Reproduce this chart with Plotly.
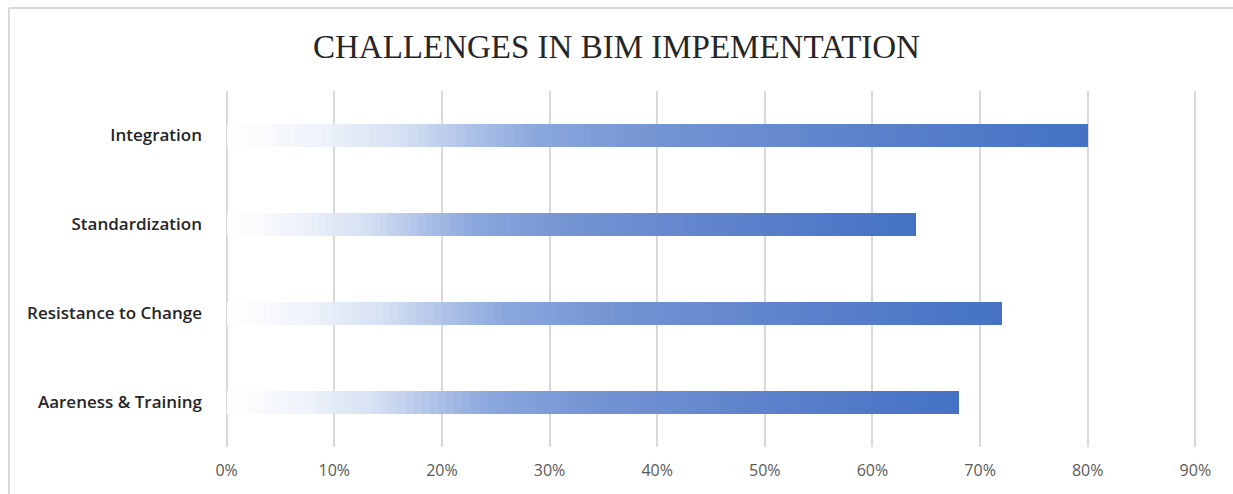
import plotly.graph_objects as go

categories = ["Aareness & Training", "Resistance to Change", "Standardization", "Integration"]
values = [0.68, 0.72, 0.64, 0.80]
tick_vals = [0, 0.1, 0.2, 0.3, 0.4, 0.5, 0.6, 0.7, 0.8, 0.9]
tick_text = ["0%", "10%", "20%", "30%", "40%", "50%", "60%", "70%", "80%", "90%"]

# gradient stops (fraction along bar, rgb)
stops = [
    (0.00, (255, 255, 255)),
    (0.10, (240, 244, 251)),
    (0.20, (214, 225, 243)),
    (0.28, (176, 195, 232)),
    (0.36, (138, 167, 221)),
    (0.50, (116, 148, 211)),
    (0.75, (92, 129, 203)),
    (1.00, (68, 114, 196)),
]

def color_at(t):
    for (t0, c0), (t1, c1) in zip(stops[:-1], stops[1:]):
        if t0 <= t <= t1:
            f = (t - t0) / (t1 - t0) if t1 > t0 else 0
            r, g, b = [round(a + (bb - a) * f) for a, bb in zip(c0, c1)]
            return f"rgb({r},{g},{b})"
    return "rgb(68,114,196)"

W, H = 1233, 494
ML, MR, MT, MB = 225, 36, 91, 47

N = 90
fig = go.Figure()
for k in range(N):
    t = (k + 0.5) / N
    fig.add_trace(go.Bar(
        y=categories,
        x=[v / N for v in values],
        orientation="h",
        marker=dict(color=color_at(t), line=dict(width=0)),
        width=0.26,
        showlegend=False,
        hoverinfo="skip",
    ))

pw = W - ML - MR
ph = H - MT - MB

def px_x(p):
    return (p - ML) / pw

def px_y(p):
    return 1 - (p - MT) / ph

border = "#d9d9d9"
fig.add_shape(type="line", xref="paper", yref="paper",
              x0=px_x(9), x1=px_x(9), y0=px_y(8), y1=px_y(494),
              line=dict(color=border, width=2))
fig.add_shape(type="line", xref="paper", yref="paper",
              x0=px_x(9), x1=px_x(1233), y0=px_y(8), y1=px_y(8),
              line=dict(color=border, width=2))

fig.update_layout(
    width=W, height=H,
    margin=dict(l=ML, r=MR, t=MT, b=MB),
    barmode="stack",
    bargap=0,
    paper_bgcolor="white",
    plot_bgcolor="white",
    title=dict(
        text="CHALLENGES IN BIM IMPEMENTATION",
        x=0.5, xref="container", xanchor="center",
        y=1 - 46 / H, yanchor="middle",
        font=dict(family="Liberation Serif", size=33, color="#262626"),
    ),
    xaxis=dict(
        range=[-0.0015, 0.9015],
        tickvals=tick_vals,
        ticktext=tick_text,
        showgrid=True,
        gridcolor="#d9d9d9",
        gridwidth=2,
        zeroline=False,
        showline=False,
        ticks="",
        ticklabelstandoff=12,
        tickfont=dict(family="Open Sans", size=16, color="#595959"),
        fixedrange=True,
    ),
    yaxis=dict(
        categoryorder="array",
        categoryarray=categories,
        range=[-0.5, 3.5],
        showgrid=False,
        zeroline=False,
        showline=False,
        ticks="",
        ticklabelstandoff=22,
        tickfont=dict(family="Open Sans", size=17, color="#262626", weight=600),
    ),
)

fig.write_html("out.html")
